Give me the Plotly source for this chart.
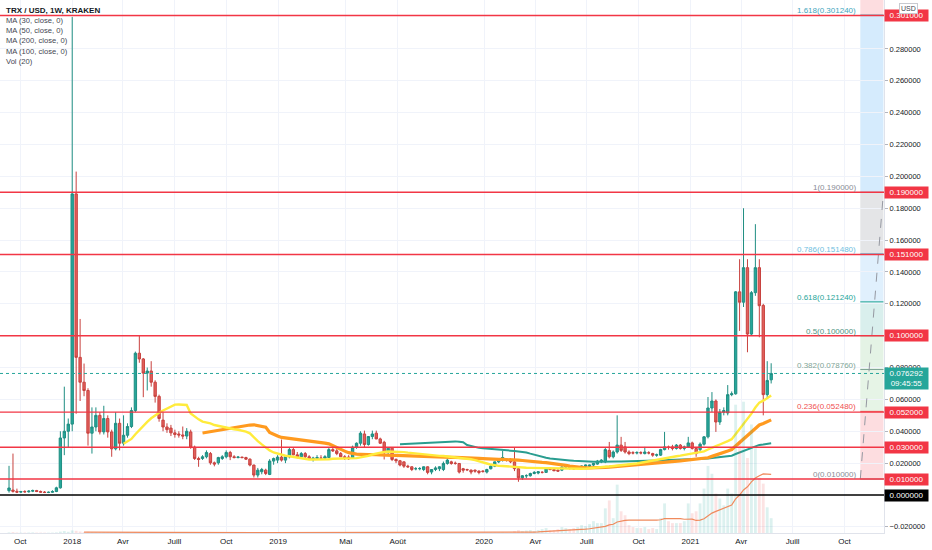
import numpy as np
import pandas as pd
import plotly.graph_objs as go

# ----------------------------------------------------------------
# TRX / USD weekly candles (Kraken)
# ----------------------------------------------------------------
first_week = '2017-09-11'

opens = [
    0.0027, 0.0031, 0.0023, 0.0018, 0.0022, 0.0020, 0.0024, 0.0028, 0.0022, 0.0018,
    0.0016, 0.0017, 0.0022, 0.0045, 0.0358, 0.0400, 0.0445, 0.1890, 0.0864, 0.0708,
    0.0656, 0.0388, 0.0427, 0.0500, 0.0396, 0.0480, 0.0396, 0.0290, 0.0450, 0.0325,
    0.0375, 0.0430, 0.0530, 0.0890, 0.0854, 0.0765, 0.0778, 0.0708, 0.0619, 0.0470,
    0.0427, 0.0420, 0.0390, 0.0383, 0.0377, 0.0370, 0.0396, 0.0300, 0.0229, 0.0229,
    0.0240, 0.0260, 0.0202, 0.0202, 0.0229, 0.0240, 0.0267, 0.0240, 0.0235, 0.0238,
    0.0235, 0.0225, 0.0188, 0.0125, 0.0146, 0.0156, 0.0129, 0.0213, 0.0219, 0.0238,
    0.0219, 0.0240, 0.0285, 0.0252, 0.0240, 0.0260, 0.0240, 0.0225, 0.0229, 0.0231,
    0.0231, 0.0235, 0.0285, 0.0277, 0.0260, 0.0240, 0.0238, 0.0231, 0.0300, 0.0325,
    0.0383, 0.0317, 0.0367, 0.0388, 0.0352, 0.0331, 0.0267, 0.0294, 0.0223, 0.0215,
    0.0208, 0.0181, 0.0177, 0.0165, 0.0165, 0.0160, 0.0177, 0.0144, 0.0160, 0.0165,
    0.0160, 0.0198, 0.0208, 0.0200, 0.0198, 0.0165, 0.0160, 0.0156, 0.0156, 0.0150,
    0.0150, 0.0144, 0.0165, 0.0181, 0.0208, 0.0225, 0.0225, 0.0223, 0.0208, 0.0165,
    0.0108, 0.0121, 0.0121, 0.0135, 0.0138, 0.0142, 0.0142, 0.0165, 0.0160, 0.0156,
    0.0156, 0.0175, 0.0181, 0.0175, 0.0169, 0.0175, 0.0181, 0.0181, 0.0188, 0.0194,
    0.0208, 0.0208, 0.0280, 0.0240, 0.0270, 0.0313, 0.0302, 0.0270, 0.0265, 0.0264,
    0.0266, 0.0260, 0.0265, 0.0260, 0.0250, 0.0250, 0.0285, 0.0302, 0.0302, 0.0292,
    0.0313, 0.0292, 0.0302, 0.0327, 0.0292, 0.0285, 0.0319, 0.0365, 0.0546, 0.0590,
    0.0458, 0.0520, 0.0515, 0.0630, 0.0635, 0.1275, 0.1210, 0.1427, 0.1010, 0.1270,
    0.1427, 0.1190, 0.0630, 0.0723,
]
highs = [
    0.0183, 0.0260, 0.0040, 0.0026, 0.0030, 0.0030, 0.0034, 0.0032, 0.0028, 0.0025,
    0.0022, 0.0030, 0.0052, 0.0400, 0.0680, 0.0480, 0.3000, 0.2030, 0.1105, 0.0825,
    0.0670, 0.0550, 0.0550, 0.0520, 0.0560, 0.0500, 0.0410, 0.0520, 0.0480, 0.0500,
    0.0450, 0.0550, 0.0900, 0.1000, 0.0860, 0.0800, 0.0840, 0.0720, 0.0630, 0.0520,
    0.0450, 0.0440, 0.0410, 0.0400, 0.0430, 0.0420, 0.0410, 0.0310, 0.0240, 0.0250,
    0.0280, 0.0270, 0.0210, 0.0240, 0.0250, 0.0280, 0.0277, 0.0250, 0.0245, 0.0240,
    0.0240, 0.0230, 0.0190, 0.0170, 0.0170, 0.0165, 0.0225, 0.0235, 0.0250, 0.0348,
    0.0250, 0.0300, 0.0300, 0.0270, 0.0270, 0.0270, 0.0250, 0.0240, 0.0250, 0.0250,
    0.0250, 0.0300, 0.0306, 0.0290, 0.0270, 0.0250, 0.0250, 0.0310, 0.0330, 0.0400,
    0.0404, 0.0370, 0.0404, 0.0404, 0.0360, 0.0340, 0.0300, 0.0300, 0.0230, 0.0220,
    0.0210, 0.0190, 0.0180, 0.0175, 0.0175, 0.0180, 0.0180, 0.0160, 0.0180, 0.0180,
    0.0210, 0.0229, 0.0215, 0.0210, 0.0200, 0.0170, 0.0165, 0.0160, 0.0160, 0.0155,
    0.0155, 0.0165, 0.0190, 0.0210, 0.0230, 0.0277, 0.0230, 0.0230, 0.0296, 0.0170,
    0.0125, 0.0130, 0.0140, 0.0150, 0.0150, 0.0150, 0.0170, 0.0175, 0.0165, 0.0160,
    0.0180, 0.0190, 0.0185, 0.0180, 0.0180, 0.0185, 0.0190, 0.0190, 0.0200, 0.0220,
    0.0225, 0.0300, 0.0333, 0.0280, 0.0500, 0.0365, 0.0333, 0.0280, 0.0275, 0.0275,
    0.0275, 0.0302, 0.0275, 0.0265, 0.0260, 0.0290, 0.0396, 0.0310, 0.0315, 0.0320,
    0.0320, 0.0310, 0.0365, 0.0335, 0.0300, 0.0330, 0.0370, 0.0615, 0.0646, 0.0600,
    0.0540, 0.0550, 0.0690, 0.0650, 0.1280, 0.1480, 0.1800, 0.1480, 0.1280, 0.1700,
    0.1480, 0.1200, 0.0840, 0.0827,
]
lows = [
    0.0015, 0.0015, 0.0012, 0.0012, 0.0014, 0.0015, 0.0018, 0.0018, 0.0015, 0.0012,
    0.0012, 0.0014, 0.0018, 0.0040, 0.0250, 0.0300, 0.0400, 0.0510, 0.0590, 0.0620,
    0.0310, 0.0260, 0.0400, 0.0380, 0.0380, 0.0360, 0.0240, 0.0280, 0.0280, 0.0310,
    0.0360, 0.0420, 0.0520, 0.0830, 0.0614, 0.0656, 0.0680, 0.0580, 0.0460, 0.0400,
    0.0390, 0.0370, 0.0360, 0.0360, 0.0350, 0.0350, 0.0290, 0.0220, 0.0177, 0.0220,
    0.0230, 0.0190, 0.0180, 0.0190, 0.0220, 0.0230, 0.0219, 0.0230, 0.0230, 0.0230,
    0.0220, 0.0180, 0.0110, 0.0110, 0.0130, 0.0125, 0.0125, 0.0190, 0.0200, 0.0210,
    0.0200, 0.0230, 0.0250, 0.0230, 0.0230, 0.0230, 0.0220, 0.0210, 0.0220, 0.0220,
    0.0230, 0.0235, 0.0270, 0.0250, 0.0240, 0.0220, 0.0220, 0.0230, 0.0290, 0.0310,
    0.0300, 0.0310, 0.0350, 0.0350, 0.0320, 0.0223, 0.0250, 0.0213, 0.0200, 0.0180,
    0.0170, 0.0170, 0.0150, 0.0155, 0.0155, 0.0150, 0.0130, 0.0130, 0.0150, 0.0150,
    0.0150, 0.0190, 0.0190, 0.0190, 0.0135, 0.0140, 0.0150, 0.0130, 0.0140, 0.0130,
    0.0140, 0.0135, 0.0160, 0.0175, 0.0200, 0.0210, 0.0210, 0.0200, 0.0150, 0.0083,
    0.0095, 0.0105, 0.0115, 0.0130, 0.0130, 0.0135, 0.0140, 0.0155, 0.0150, 0.0145,
    0.0150, 0.0170, 0.0160, 0.0160, 0.0165, 0.0170, 0.0175, 0.0175, 0.0180, 0.0190,
    0.0200, 0.0200, 0.0230, 0.0230, 0.0260, 0.0270, 0.0260, 0.0250, 0.0255, 0.0255,
    0.0255, 0.0255, 0.0255, 0.0240, 0.0240, 0.0245, 0.0280, 0.0285, 0.0280, 0.0285,
    0.0285, 0.0280, 0.0295, 0.0285, 0.0240, 0.0275, 0.0310, 0.0355, 0.0520, 0.0396,
    0.0440, 0.0500, 0.0500, 0.0620, 0.0630, 0.1030, 0.1180, 0.0896, 0.1000, 0.1250,
    0.0990, 0.0500, 0.0605, 0.0700,
]
closes = [
    0.0044, 0.0023, 0.0018, 0.0022, 0.0020, 0.0024, 0.0028, 0.0022, 0.0018, 0.0016,
    0.0017, 0.0022, 0.0045, 0.0358, 0.0400, 0.0445, 0.1890, 0.0864, 0.0708, 0.0656,
    0.0388, 0.0427, 0.0500, 0.0396, 0.0480, 0.0396, 0.0290, 0.0450, 0.0325, 0.0375,
    0.0430, 0.0530, 0.0890, 0.0854, 0.0765, 0.0778, 0.0708, 0.0619, 0.0480, 0.0427,
    0.0410, 0.0390, 0.0380, 0.0377, 0.0370, 0.0400, 0.0300, 0.0229, 0.0223, 0.0240,
    0.0267, 0.0202, 0.0194, 0.0235, 0.0240, 0.0267, 0.0240, 0.0235, 0.0238, 0.0235,
    0.0225, 0.0188, 0.0125, 0.0156, 0.0160, 0.0135, 0.0213, 0.0229, 0.0238, 0.0219,
    0.0240, 0.0285, 0.0252, 0.0240, 0.0260, 0.0240, 0.0225, 0.0231, 0.0235, 0.0231,
    0.0240, 0.0285, 0.0277, 0.0260, 0.0240, 0.0229, 0.0227, 0.0300, 0.0325, 0.0388,
    0.0317, 0.0367, 0.0383, 0.0352, 0.0325, 0.0267, 0.0294, 0.0223, 0.0215, 0.0188,
    0.0181, 0.0177, 0.0160, 0.0165, 0.0166, 0.0177, 0.0142, 0.0160, 0.0170, 0.0177,
    0.0198, 0.0219, 0.0198, 0.0198, 0.0144, 0.0156, 0.0158, 0.0144, 0.0150, 0.0142,
    0.0148, 0.0160, 0.0181, 0.0208, 0.0227, 0.0235, 0.0219, 0.0208, 0.0165, 0.0108,
    0.0121, 0.0121, 0.0135, 0.0142, 0.0146, 0.0142, 0.0165, 0.0160, 0.0152, 0.0150,
    0.0175, 0.0181, 0.0169, 0.0163, 0.0175, 0.0181, 0.0188, 0.0188, 0.0198, 0.0213,
    0.0219, 0.0285, 0.0240, 0.0270, 0.0313, 0.0280, 0.0270, 0.0260, 0.0264, 0.0266,
    0.0264, 0.0270, 0.0264, 0.0250, 0.0252, 0.0285, 0.0302, 0.0298, 0.0292, 0.0313,
    0.0292, 0.0302, 0.0327, 0.0292, 0.0260, 0.0319, 0.0365, 0.0546, 0.0590, 0.0458,
    0.0520, 0.0530, 0.0630, 0.0635, 0.1275, 0.1210, 0.1427, 0.1010, 0.1270, 0.1427,
    0.1188, 0.0630, 0.0719, 0.076292,
]
# volume, arbitrary units (only relative bar heights are visible)
volumes = [
    0.6, 0.9, 0.5, 0.4, 0.4, 0.5, 0.6, 0.4, 0.4, 0.3,
    0.3, 0.4, 0.6, 1.4, 2.0, 1.2, 2.6, 2.2, 1.5, 1.0,
    1.2, 0.9, 0.7, 0.6, 0.8, 0.6, 0.7, 0.8, 0.6, 0.5,
    0.6, 0.7, 1.0, 0.9, 0.7, 0.6, 0.6, 0.5, 0.6, 0.5,
    0.4, 0.4, 0.4, 0.4, 0.4, 0.5, 0.6, 0.5, 0.4, 0.4,
    0.4, 0.5, 0.4, 0.4, 0.4, 0.5, 0.4, 0.3, 0.3, 0.3,
    0.4, 0.5, 0.6, 0.4, 0.4, 0.3, 0.5, 0.5, 0.4, 0.6,
    0.4, 0.5, 0.4, 0.3, 0.4, 0.3, 0.3, 0.3, 0.3, 0.3,
    0.4, 0.5, 0.4, 0.4, 0.3, 0.3, 0.3, 0.5, 0.5, 0.7,
    0.6, 0.5, 0.5, 0.4, 0.4, 0.5, 0.4, 0.5, 0.3, 0.3,
    0.3, 0.3, 0.3, 0.2, 0.2, 0.3, 0.4, 0.3, 0.3, 0.3,
    0.4, 0.4, 0.3, 0.3, 0.4, 0.3, 0.3, 0.3, 0.3, 0.3,
    0.3, 0.3, 0.4, 0.4, 0.5, 0.6, 0.4, 0.4, 2.0, 3.0,
    2.0, 2.5, 3.0, 2.0, 3.0, 4.0, 5.0, 3.0, 3.0, 4.0,
    6.0, 5.0, 4.0, 5.0, 6.0, 8.0, 7.0, 9.0, 12.0, 10.0,
    10.0, 25.0, 33.0, 15.0, 49.0, 22.0, 18.0, 8.0, 6.0, 5.0,
    5.0, 6.0, 4.0, 5.0, 4.0, 15.0, 30.0, 12.0, 10.0, 10.0,
    10.0, 12.0, 30.0, 20.0, 22.0, 30.0, 45.0, 68.0, 60.0, 40.0,
    35.0, 28.0, 45.0, 40.0, 130.0, 93.0, 133.0, 76.0, 110.0, 86.0,
    56.0, 50.0, 26.0, 15.0,
]

# Horizontal levels drawn by hand on the chart
red_levels = [0.301, 0.19, 0.151, 0.10, 0.052, 0.03, 0.01]
zero_level = 0.0

# price scale ticks (the ones hidden under level tags are left out)
price_ticks = [-0.02, 0.02, 0.04, 0.06, 0.08, 0.12, 0.14, 0.16, 0.18,
               0.20, 0.22, 0.24, 0.26, 0.28]

# Fibonacci retracement tool (anchor points)
fib_t0, fib_p0 = '2021-10-29', 0.01
fib_t1, fib_p1 = '2021-12-09', 0.19
fib_ratios = [0, 0.236, 0.382, 0.5, 0.618, 0.786, 1, 1.618, 2.618]
fib_text_col = ['#8a8d96', '#f0504f', '#7fa596', '#4f9483', '#26a69a',
                '#6fc0e0', '#8a8d96', '#3fa6bd', '#f23645']
fib_fill = ['rgba(242,54,69,0.17)', 'rgba(129,199,132,0.2)', 'rgba(76,175,80,0.15)',
            'rgba(0,150,136,0.15)', 'rgba(100,181,246,0.2)', 'rgba(120,123,134,0.2)',
            'rgba(33,150,243,0.19)', 'rgba(242,54,69,0.17)']

last_price = 0.076292
countdown = '09:45:55'

# time axis labels (French)
tick_dates = ['2017-10-01', '2018-01-01', '2018-04-01', '2018-07-01', '2018-10-01',
              '2019-01-01', '2019-05-01', '2019-08-01', '2020-01-01', '2020-04-01',
              '2020-07-01', '2020-10-01', '2021-01-01', '2021-04-01', '2021-07-01',
              '2021-10-01']
tick_text = ['Oct', '2018', 'Avr', 'Juill', 'Oct', '2019', 'Mai', 'Août', '2020',
             'Avr', 'Juill', 'Oct', '2021', 'Avr', 'Juill', 'Oct']

legend_lines = ['MA (30, close, 0)', 'MA (50, close, 0)', 'MA (200, close, 0)',
                'MA (100, close, 0)', 'Vol (20)']

#-------------
# Build dataframe and indicators
#-------------
df = pd.DataFrame({'open': opens, 'high': highs, 'low': lows,
                   'close': closes, 'volume': volumes})
df['date'] = pd.date_range(first_week, periods=len(df), freq='7D')
for n in [30, 50, 100, 200]:
    df['ma{}'.format(n)] = df['close'].rolling(n).mean()
df['vol_ma'] = df['volume'].rolling(20).mean()

up = '#26a69a'
font = 'Liberation Sans, Arial, sans-serif'

fig = go.Figure()

# volume (overlay at the bottom)
vol_cols = np.where(df['close'] >= df['open'], 'rgba(38,166,154,0.16)', 'rgba(239,83,80,0.16)')
fig.add_trace(go.Bar(x=df['date'], y=df['volume'], marker_color=vol_cols,
                     marker_line_width=0, width=7 * 86400000 * 0.72, yaxis='y2'))
fig.add_trace(go.Scatter(x=df['date'], y=df['vol_ma'], mode='lines',
                         line=dict(color='#f08a5d', width=1.2), yaxis='y2'))

# candles
fig.add_trace(go.Candlestick(
    x=df['date'], open=df['open'], high=df['high'], low=df['low'], close=df['close'],
    increasing=dict(line=dict(color='#1f8e82', width=1), fillcolor=up),
    decreasing=dict(line=dict(color='#c8423f', width=1), fillcolor='#e2605c'),
    whiskerwidth=0,
))

# moving averages
fig.add_trace(go.Scatter(x=df['date'], y=df['ma100'], mode='lines',
                         line=dict(color='#2a9d90', width=2)))
fig.add_trace(go.Scatter(x=df['date'], y=df['ma50'], mode='lines',
                         line=dict(color='#ff9a1f', width=3.2)))
fig.add_trace(go.Scatter(x=df['date'], y=df['ma30'], mode='lines',
                         line=dict(color='#ffeb3b', width=2.4)))
fig.add_trace(go.Scatter(x=df['date'], y=df['ma200'], mode='lines',
                         line=dict(color='#e91e63', width=1.5)))

shapes = []
annotations = []

# Fibonacci boxes, level lines and labels
fib_prices = [fib_p0 + r * (fib_p1 - fib_p0) for r in fib_ratios]
for i in range(len(fib_ratios) - 1):
    shapes.append(dict(type='rect', xref='x', yref='y', x0=fib_t0, x1=fib_t1,
                       y0=fib_prices[i], y1=fib_prices[i + 1], fillcolor=fib_fill[i],
                       line_width=0, layer='below'))
for r, p, c in zip(fib_ratios[:-1], fib_prices[:-1], fib_text_col[:-1]):
    shapes.append(dict(type='line', xref='x', yref='y', x0=fib_t0, x1=fib_t1,
                       y0=p, y1=p, line=dict(color=c, width=1)))
    annotations.append(dict(x=fib_t0, y=p, xref='x', yref='y', xanchor='right',
                            yanchor='bottom', xshift=-2, yshift=-2, showarrow=False,
                            text='{:g}({:.6f})'.format(r, p),
                            font=dict(family=font, size=8, color=c)))
shapes.append(dict(type='line', xref='x', yref='y', x0=fib_t0, y0=fib_p0,
                   x1=fib_t1, y1=fib_p1, line=dict(color='#9598a1', width=1, dash='dash')))

# hand drawn levels
for lvl in red_levels:
    shapes.append(dict(type='line', xref='paper', yref='y', x0=0, x1=1, y0=lvl, y1=lvl,
                       line=dict(color='#f23645', width=1.4)))
    annotations.append(dict(x=1, y=lvl, xref='paper', yref='y', xanchor='left',
                            showarrow=False, text='{:.6f}'.format(lvl), width=41,
                            bgcolor='#f23645', borderpad=1,
                            font=dict(family=font, size=8, color='white')))
shapes.append(dict(type='line', xref='paper', yref='y', x0=0, x1=1, y0=zero_level,
                   y1=zero_level, line=dict(color='#000000', width=1.5)))
annotations.append(dict(x=1, y=zero_level, xref='paper', yref='y', xanchor='left',
                        showarrow=False, text='{:.6f}'.format(zero_level), width=41,
                        bgcolor='#000000', borderpad=1,
                        font=dict(family=font, size=8, color='white')))

# last price line + label
shapes.append(dict(type='line', xref='paper', yref='y', x0=0, x1=1, y0=last_price,
                   y1=last_price, line=dict(color=up, width=1, dash='dot')))
annotations.append(dict(x=1, y=last_price, xref='paper', yref='y', xanchor='left',
                        yanchor='top', yshift=6, showarrow=False, width=41,
                        text='{:.6f}<br>{}'.format(last_price, countdown),
                        bgcolor=up, borderpad=1,
                        font=dict(family=font, size=8, color='white')))

# currency tag
annotations.append(dict(x=1, y=1, xref='paper', yref='paper', xanchor='left',
                        yanchor='top', xshift=15, yshift=-3, showarrow=False,
                        text='USD', bgcolor='white', bordercolor='#c8cad0',
                        borderwidth=1, borderpad=1,
                        font=dict(family=font, size=7, color='#434651')))

# top-left legend text
annotations.append(dict(x=0, y=1, xref='paper', yref='paper', xanchor='left',
                        yanchor='middle', xshift=4, yshift=-10, showarrow=False,
                        text='<b>TRX / USD, 1W, KRAKEN</b>',
                        font=dict(family=font, size=8, color='#131722')))
for i, txt in enumerate(legend_lines):
    annotations.append(dict(x=0, y=1, xref='paper', yref='paper', xanchor='left',
                            yanchor='middle', xshift=4, yshift=-20.3 - 10.3 * i,
                            showarrow=False, text=txt,
                            font=dict(family=font, size=7.6, color='#434651')))

fig.update_layout(
    width=932, height=550,
    margin=dict(l=0, r=48, t=0, b=17),
    paper_bgcolor='white', plot_bgcolor='white',
    showlegend=False, boxgap=0.15,
    shapes=shapes, annotations=annotations,
    xaxis=dict(type='date', range=['2017-08-26', '2021-12-10'],
               tickvals=tick_dates, ticktext=tick_text,
               showgrid=True, gridcolor='#f0f3fa', gridwidth=1,
               rangeslider=dict(visible=False), ticks='',
               showline=True, linecolor='#e0e3eb',
               tickfont=dict(family=font, size=8, color='#131722')),
    yaxis=dict(side='right', range=[-0.02385, 0.3107], tickvals=price_ticks,
               tickformat='.6f', showgrid=True, gridcolor='#f0f3fa',
               zeroline=False, ticks='outside', ticklen=3, tickcolor='#b2b5be',
               showline=True, linecolor='#e0e3eb',
               tickfont=dict(family=font, size=7.5, color='#131722')),
    yaxis2=dict(overlaying='y', range=[0, 540], visible=False),
)

# the page has a default 8px body margin; drop it so the figure fills the window
fig.write_html('out.html', config={'displayModeBar': False},
               post_script="document.body.style.margin='0';")
